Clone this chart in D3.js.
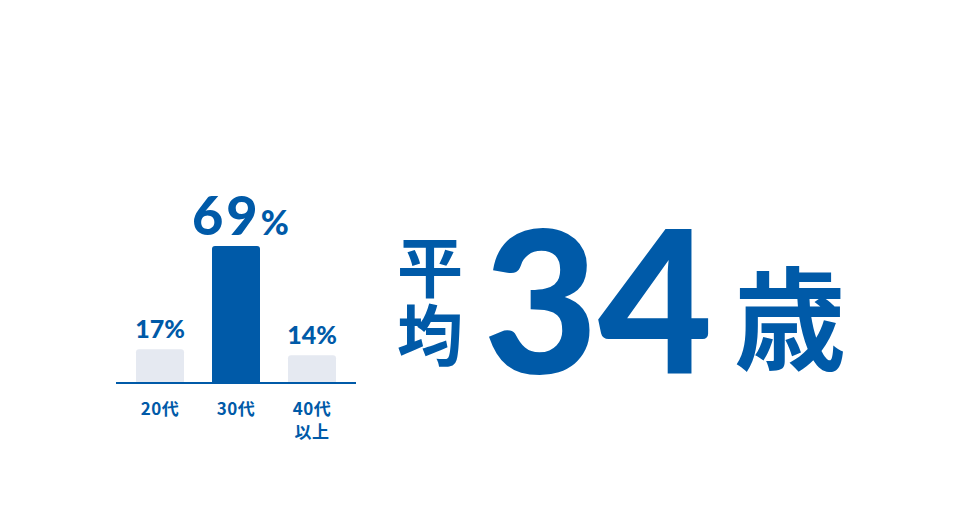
<!DOCTYPE html>
<html>
<head>
<meta charset="utf-8">
<script src="https://cdn.jsdelivr.net/npm/d3@7"></script>
<style>
  html, body { margin: 0; padding: 0; background: #fff; }
  svg { display: block; }
  .num { font-family: Lato, "Noto Sans", sans-serif; font-weight: 900; }
  .jp { font-family: "Noto Sans CJK JP", sans-serif; font-weight: 700; }
</style>
</head>
<body>
<svg id="chart" width="980" height="520"></svg>
<script>
// data
var categories = ['20代', '30代', '40代\n以上'];
var shares = [17, 69, 14];
var highlight = '30代';
var avgLabel = '平均';
var avgAge = 34;
var avgUnit = '歳';

var BLUE = '#005aa8';
var PALE = '#e5e9f1';

var svg = d3.select('#chart');

// bar block
var base = 383;
var x = d3.scaleBand().domain(categories).range([122, 350]).paddingInner(28 / 76).paddingOuter(14 / 76);
var y = d3.scaleLinear().domain([0, 69]).range([base, 246]);
var cx = (c) => x(c) + x.bandwidth() / 2;

// rounded top only
var barPath = (d, i) => {
	var x0 = x(categories[i]), w = x.bandwidth(), top = y(d), r = 3;
	return 'M' + x0 + ',' + base +
		'V' + (top + r) +
		'Q' + x0 + ',' + top + ' ' + (x0 + r) + ',' + top +
		'H' + (x0 + w - r) +
		'Q' + (x0 + w) + ',' + top + ' ' + (x0 + w) + ',' + (top + r) +
		'V' + base + 'Z';
};

svg.selectAll('path.bar').data(shares).enter().append('path')
	.attr('class', 'bar')
	.attr('d', barPath)
	.attr('fill', (d, i) => categories[i] === highlight ? BLUE : PALE);

// baseline
svg.append('line')
	.attr('x1', 116).attr('x2', 356)
	.attr('y1', base).attr('y2', base)
	.attr('stroke', BLUE).attr('stroke-width', 2);

// value labels (highlighted one is larger, left-anchored so spacing stays put)
var vals = svg.selectAll('text.val').data(shares).enter().append('text')
	.attr('class', 'val num')
	.attr('fill', BLUE)
	.attr('text-anchor', (d, i) => categories[i] === highlight ? 'start' : 'middle')
	.attr('x', (d, i) => categories[i] === highlight ? cx(categories[i]) - 44 : cx(categories[i]))
	.attr('y', (d) => y(d) - 11);
vals.each(function(d, i) {
	var big = categories[i] === highlight;
	var t = d3.select(this);
	t.append('tspan').attr('font-size', big ? 54 : 25)
		.attr('letter-spacing', big ? 3 : 0).text(d);
	t.append('tspan').attr('font-size', big ? 34 : 25).text('%');
});

// category labels
svg.selectAll('text.cat').data(categories).enter().append('text')
	.attr('class', 'cat jp')
	.attr('fill', BLUE)
	.attr('font-size', 17)
	.attr('font-weight', 500)
	.attr('letter-spacing', 0.5)
	.attr('text-anchor', 'middle')
	.attr('x', cx)
	.attr('y', 415)
	.each(function(d) {
		var t = d3.select(this);
		d.split('\n').forEach((line, k) => {
			t.append('tspan')
				.attr('x', cx(d))
				.attr('dy', k ? 23 : 0)
				.text(line);
		});
	});

// average block
svg.append('text')
	.attr('class', 'jp')
	.attr('fill', BLUE)
	.attr('font-size', 66)
	.attr('writing-mode', 'vertical-rl')
	.attr('letter-spacing', 2)
	.attr('x', 430)
	.attr('y', 234)
	.text(avgLabel);

svg.append('text')
	.attr('class', 'num')
	.attr('fill', BLUE)
	.attr('font-size', 198)
	.attr('text-anchor', 'middle')
	.attr('x', 598)
	.attr('y', 373)
	.text(avgAge);

svg.append('text')
	.attr('class', 'jp')
	.attr('fill', BLUE)
	.attr('font-size', 112)
	.attr('text-anchor', 'middle')
	.attr('x', 790)
	.attr('y', 362)
	.text(avgUnit);
</script>
</body>
</html>
